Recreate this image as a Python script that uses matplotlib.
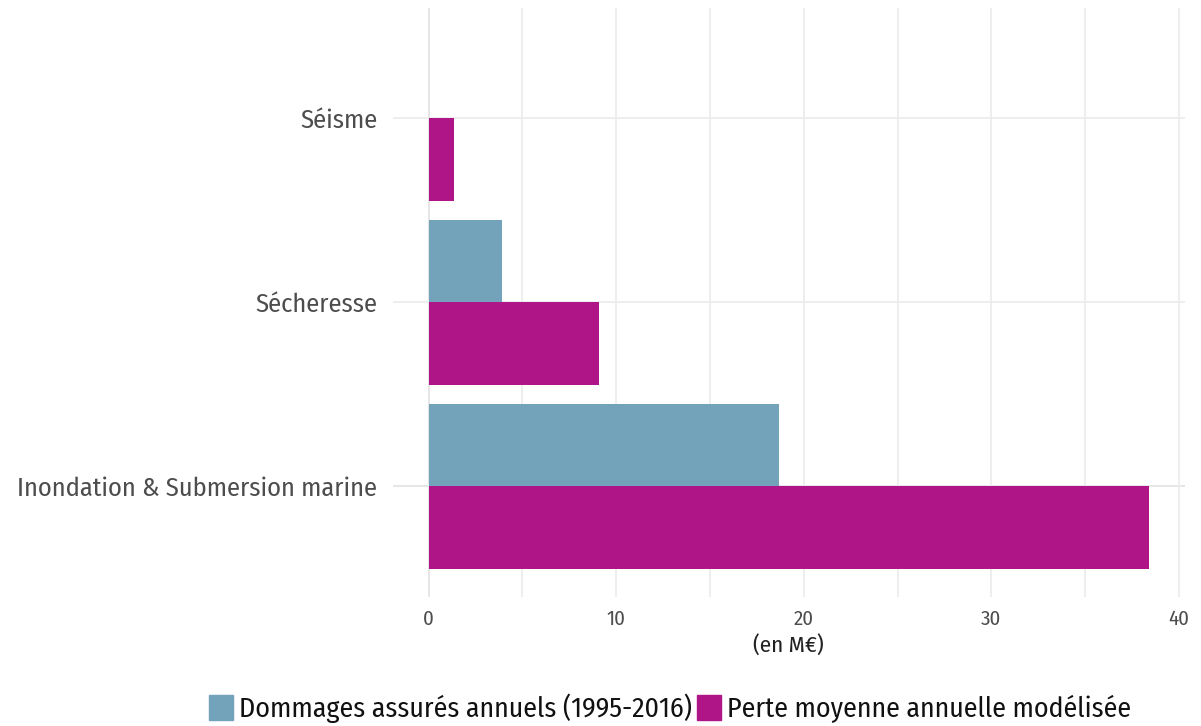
import matplotlib
matplotlib.use("Agg")
import matplotlib.pyplot as plt
from matplotlib.patches import Patch
import numpy as np

# ── données ─────────────────────────────────────────────
categories = ["Inondation & Submersion marine", "Sécheresse", "Séisme"]
dommages = [18.7, 3.9, 0.0]        # Dommages assurés annuels (1995-2016)
perte = [38.4, 9.1, 1.35]          # Perte moyenne annuelle modélisée
xticks = [0, 10, 20, 30, 40]
series_labels = ["Dommages assurés annuels (1995-2016)",
                 "Perte moyenne annuelle modélisée"]

col_blue = "#72a3bb"
col_mag = "#b01587"

plt.rcParams["font.family"] = ["Fira Sans Condensed", "DejaVu Sans"]

fig = plt.figure(figsize=(12.01, 7.26), dpi=100)
ax = fig.add_axes([0.327, 0.178, 0.6595, 0.811])

y = np.arange(1, len(categories) + 1)
h = 0.45
ax.barh(y + h / 2, dommages, height=h, color=col_blue, zorder=3)
ax.barh(y - h / 2, perte, height=h, color=col_mag, zorder=3)

ax.set_xlim(-1.92, 40.32)
ax.set_ylim(0.4, 3.6)
ax.set_xticks(xticks)
ax.set_xticks([5, 15, 25, 35], minor=True)
ax.set_yticks(y)
ax.set_yticklabels(categories)

ax.grid(True, which="both", axis="x", color="#ebebeb", lw=1.2, zorder=0)
ax.grid(True, axis="y", color="#ebebeb", lw=1.2, zorder=0)
ax.axvline(0, color="#d0d0d0", lw=1.4, zorder=1)
ax.axhline(y[0], color="#cfcfcf", lw=1.4, zorder=1)

for s in ax.spines.values():
    s.set_visible(False)
ax.tick_params(axis="both", which="both", length=0)
ax.tick_params(axis="y", labelsize=19.1, labelcolor="#4d4d4d", pad=11)
ax.tick_params(axis="x", labelsize=15, labelcolor="#4d4d4d", pad=9)
ax.set_xlabel("(en M€)", fontsize=16.5, color="#222222", labelpad=4)

handles = [Patch(color=col_blue), Patch(color=col_mag)]
fig.legend(handles, series_labels, loc="lower center", ncol=2,
           bbox_to_anchor=(0.558, -0.03), frameon=False, fontsize=20.1,
           handlelength=0.85, handleheight=1.0, handletextpad=0.2,
           columnspacing=0.2, labelcolor="#111111")

fig.savefig("out.png", dpi=100)
